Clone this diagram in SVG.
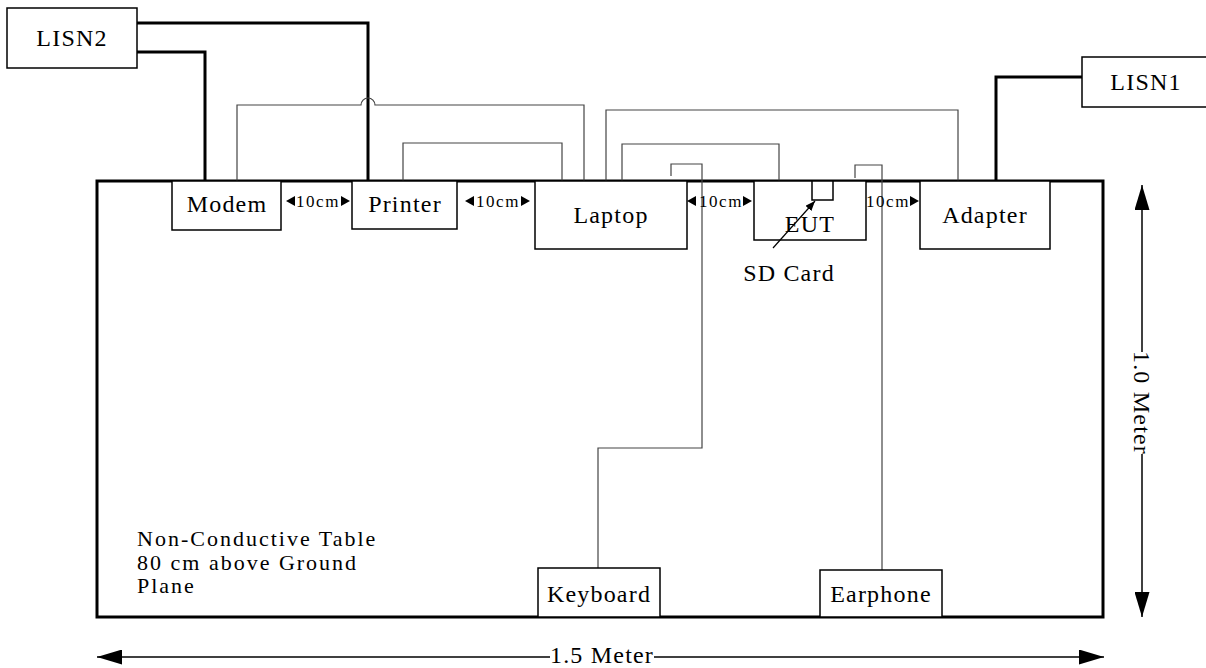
<svg xmlns="http://www.w3.org/2000/svg" width="1206" height="668" viewBox="0 0 1206 668">
<style>
.box{fill:#fff;stroke:#000;stroke-width:1.5}
.lbl{font-family:"Liberation Serif",serif;font-size:24px;letter-spacing:1.2px;fill:#000;text-anchor:middle}
.note{font-family:"Liberation Serif",serif;font-size:22px;letter-spacing:2px;fill:#000}
.sm{font-family:"Liberation Serif",serif;font-size:17px;letter-spacing:1.5px;fill:#000;text-anchor:middle}
.thick{fill:none;stroke:#000;stroke-width:3}
.thin{fill:none;stroke:#444;stroke-width:1.2}
.dim{fill:none;stroke:#000;stroke-width:1.5}
</style>
<defs>
<marker id="ah" markerWidth="10" markerHeight="8" refX="10" refY="4" orient="auto" markerUnits="userSpaceOnUse" viewBox="0 0 10 8"><path d="M0,0 L10,4 L0,8 Z" fill="#000"/></marker>
<marker id="big" markerWidth="25" markerHeight="15" refX="25" refY="7.5" orient="auto-start-reverse" markerUnits="userSpaceOnUse" viewBox="0 0 25 15"><path d="M0,0 L25,7.5 L0,15 Z" fill="#000"/></marker>
</defs>
<rect width="1206" height="668" fill="#fff"/>
<g id="table">
<rect x="97" y="181" width="1006" height="436" fill="none" stroke="#000" stroke-width="3"/>
<text class="note" x="137" y="546">Non-Conductive Table</text>
<text class="note" x="137" y="570">80 cm above Ground</text>
<text class="note" x="137" y="593">Plane</text>
</g>
<g id="connectors">
<path class="thick" d="M137,23 H368 V181"/>
<path class="thick" d="M137,52 H205 V181"/>
<path class="thick" d="M1082,77 H996 V181"/>
<path class="thin" d="M237,181 V105 H361 A7,7 0 0 1 375,105 H584 V181"/>
<path class="thin" d="M403,181 V143 H562 V181"/>
<path class="thin" d="M606,181 V110 H958 V181"/>
<path class="thin" d="M622,181 V144 H779 V181"/>
<path class="thin" d="M671,176 V164 H702 V448 H598 V568"/>
<path class="thin" d="M855,178 V165 H882 V570"/>
</g>
<g id="lisn2"><rect class="box" x="7" y="8" width="130" height="60"/><text class="lbl" x="72" y="46">LISN2</text></g>
<g id="lisn1"><rect class="box" x="1082" y="57" width="130" height="50"/><text class="lbl" x="1146" y="90">LISN1</text></g>
<g id="modem"><rect class="box" x="172" y="181" width="109" height="49"/><text class="lbl" x="227" y="212">Modem</text></g>
<g id="printer"><rect class="box" x="352" y="181" width="105" height="48"/><text class="lbl" x="405" y="212">Printer</text></g>
<g id="laptop"><rect class="box" x="535" y="181" width="152" height="68"/><text class="lbl" x="611" y="223">Laptop</text></g>
<g id="eut"><rect class="box" x="754" y="181" width="112" height="59"/><text class="lbl" x="810" y="232">EUT</text>
<rect x="812" y="181" width="21" height="19" fill="#fff" stroke="#000" stroke-width="1.5"/></g>
<g id="adapter"><rect class="box" x="920" y="181" width="130" height="68"/><text class="lbl" x="985" y="223">Adapter</text></g>
<g id="keyboard"><rect class="box" x="538" y="568" width="122" height="49"/><text class="lbl" x="599" y="602">Keyboard</text></g>
<g id="earphone"><rect class="box" x="820" y="570" width="122" height="47"/><text class="lbl" x="881" y="602">Earphone</text></g>
<g id="sdcard"><line x1="773" y1="248" x2="815" y2="201" stroke="#000" stroke-width="1.2" marker-end="url(#ah)"/><text class="lbl" x="789" y="281">SD Card</text></g>
<g id="spacing">
<polygon points="286,201 295,196 295,206"/><polygon points="350,201 341,196 341,206"/><text class="sm" x="318" y="207">10cm</text>
<polygon points="465,201 474,196 474,206"/><polygon points="530,201 521,196 521,206"/><text class="sm" x="498" y="207">10cm</text>
<polygon points="687,201 696,196 696,206"/><polygon points="752,201 743,196 743,206"/><text class="sm" x="721" y="207">10cm</text>
<polygon points="919,201 910,196 910,206"/><text class="sm" x="888" y="207">10cm</text>
</g>
<g id="dimensions">
<line class="dim" x1="97" y1="657" x2="1104" y2="657" marker-start="url(#big)" marker-end="url(#big)"/>
<rect x="550" y="645" width="104" height="22" fill="#fff"/>
<text class="lbl" x="602" y="663">1.5 Meter</text>
<line class="dim" x1="1142" y1="185" x2="1142" y2="617" marker-start="url(#big)" marker-end="url(#big)"/>
<rect x="1130" y="352" width="22" height="102" fill="#fff"/>
<text class="lbl" transform="translate(1142,403) rotate(90)" x="0" y="8">1.0 Meter</text>
</g>
</svg>
